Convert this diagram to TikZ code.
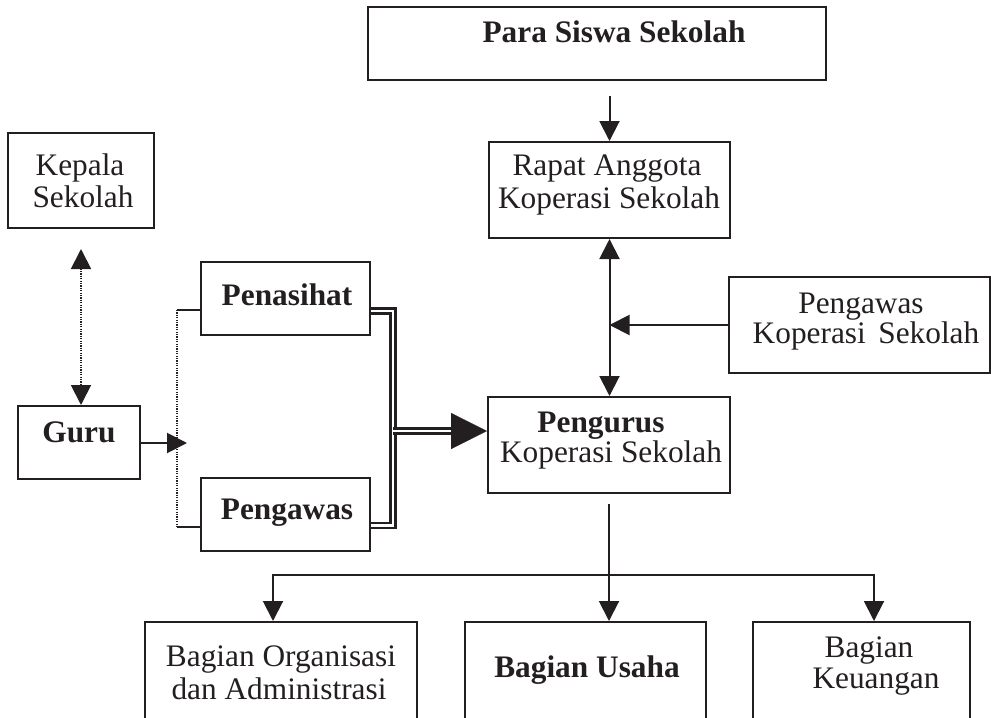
\documentclass[tikz,border=0pt]{standalone}
\usepackage{fontspec}
\setmainfont{Liberation Serif}
\usetikzlibrary{arrows.meta,fit}
\definecolor{ink}{HTML}{231F20}
\tikzset{
  box/.style={draw=ink, line width=1.5pt, inner sep=0pt},
  lbl/.style={anchor=base, inner sep=0pt, text=ink, font=\fontsize{23.5}{28}\selectfont},
  blbl/.style={anchor=base, inner sep=0pt, text=ink, font=\fontsize{23.5}{28}\selectfont\bfseries},
  conn/.style={draw=ink, line width=1.5pt},
  arr/.style={conn, -{Triangle[length=15pt,width=15pt]}},
  darr/.style={conn, {Triangle[length=15pt,width=15pt]}-{Triangle[length=15pt,width=15pt]}},
  dotl/.style={draw=ink, line width=1.4pt, dash pattern=on 0.9pt off 0.9pt},
  dbl/.style={draw=ink, line width=2pt, double=white, double distance=1.6pt},
}
\begin{document}
\begin{tikzpicture}[x=0.75pt,y=-0.75pt]
\useasboundingbox (0,0) rectangle (991,717);
\clip (0,0) rectangle (991,717);

% boxes
\node[box, fit={(368,7) (826,80)}] (para) {};
\node[box, fit={(489,142) (730,238)}] (rapat) {};
\node[box, fit={(8,133) (154,228)}] (kepala) {};
\node[box, fit={(18,406) (140,479)}] (guru) {};
\node[box, fit={(201,262) (370,335)}] (penasihat) {};
\node[box, fit={(201,478) (370,551)}] (pengawas) {};
\node[box, fit={(488,397) (730,493)}] (pengurus) {};
\node[box, fit={(729,277) (990,373)}] (pengawasK) {};
\node[box, fit={(145,622) (417,740)}] (org) {};
\node[box, fit={(465,622) (706,740)}] (usaha) {};
\node[box, fit={(753,622) (970,740)}] (keu) {};

% texts
\node[blbl] (paraT) at (614,43) {Para Siswa Sekolah};
\node[lbl] (rapatT1) at (607,175) {Rapat Anggota};
\node[lbl] (rapatT2) at (609,208) {Koperasi Sekolah};
\node[lbl] (kepalaT1) at (80,175) {Kepala};
\node[lbl] (kepalaT2) at (83,207) {Sekolah};
\node[blbl] (guruT) at (79,442) {Guru};
\node[blbl] (penasihatT) at (287,305) {Penasihat};
\node[blbl] (pengawasT) at (287,519) {Pengawas};
\node[blbl] (pengurusT1) at (601,432) {Pengurus};
\node[lbl] (pengurusT2) at (611,462) {Koperasi Sekolah};
\node[lbl] (pengawasKT1) at (861,313) {Pengawas};
\node[lbl] (pengawasKT2) at (866,343) {Koperasi\hspace{0.15em} Sekolah};
\node[lbl] (orgT1) at (281,666) {Bagian Organisasi};
\node[lbl] (orgT2) at (279,699) {dan Administrasi};
\node[blbl] (usahaT) at (587,677) {Bagian Usaha};
\node[lbl] (keuT1) at (869,657) {Bagian};
\node[lbl] (keuT2) at (876,688) {Keuangan};

% top connectors
\draw[arr, shorten <=11.25pt] (para.south -| rapat.north) -- (rapat.north);
\draw[darr] (rapat.south) -- (rapat.south |- pengurus.north);
\draw[arr] (pengawasK.west) -- (pengawasK.west -| rapat.south);

% Kepala - Guru
\draw[dotl, {Triangle[length=15pt,width=15pt]}-{Triangle[length=15pt,width=15pt]}, shorten <=15pt]
  (kepala.south) -- (kepala.south |- guru.north);

% Guru arrow
\coordinate (gtip) at (187,443);
\draw[arr] (guru.east |- gtip) -- (gtip);

% dotted bracket
\coordinate (b1) at (177,310);
\coordinate (b2) at (177,527);
\draw[dotl] (b1) -- (b2);
\draw[draw=ink, line width=1.1pt] (b1) -- (b1 -| penasihat.west);
\draw[draw=ink, line width=1.1pt] (b2) -- (b2 -| pengawas.west);

% double connectors
\coordinate (j1) at (393,311);
\coordinate (j2) at (393,525.5);
\coordinate (j3) at (393,431);
\coordinate (ah) at (453,431);
\draw[dbl] (j1 -| penasihat.east) -- (j1) -- (j2) -- (j2 -| pengawas.east);
\draw[dbl] (j3) -- (ah);
\draw[draw=ink, fill=ink, line width=0.2pt, -{Triangle[length=27pt,width=27pt]}] ([xshift=-1pt]ah) -- (ah -| pengurus.west);

% bottom connectors
\coordinate (hb) at (609,575);
\coordinate (a1) at (273,575);
\coordinate (a3) at (874,575);
\draw[conn, shorten <=7.5pt] (pengurus.south) -- (hb);
\draw[arr] (hb) -- (a1) -- (a1 |- org.north);
\draw[arr] (hb) -- (a3) -- (a3 |- keu.north);
\draw[arr] (hb) -- (hb |- usaha.north);
\end{tikzpicture}
\end{document}
